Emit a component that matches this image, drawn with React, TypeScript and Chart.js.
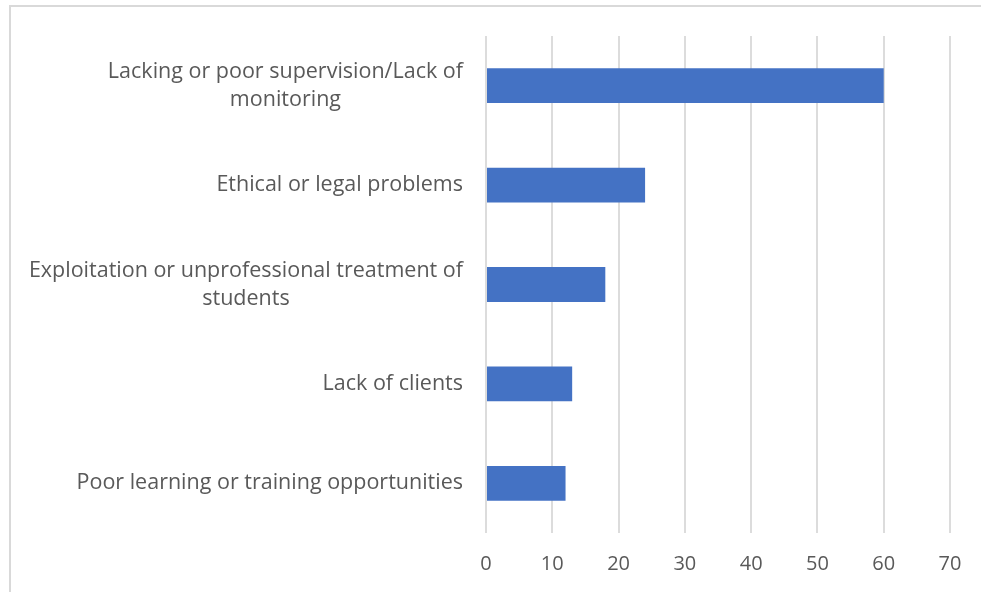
import React, { useEffect, useRef } from "react";
import { Chart, registerables } from "chart.js";

Chart.register(...registerables);

const categories: string[][] = [
  ["Lacking or poor supervision/Lack of", "monitoring"],
  ["Ethical or legal problems"],
  ["Exploitation or unprofessional treatment of", "students"],
  ["Lack of clients"],
  ["Poor learning or training opportunities"],
];
const values: number[] = [60, 24, 18, 13, 12];
const xTicks: number[] = [0, 10, 20, 30, 40, 50, 60, 70];

const FONT = "'Open Sans', sans-serif";
const TEXT = "#595959";

const labelPlugin = {
  id: "centeredLabels",
  afterDraw(chart: any) {
    const ctx = chart.ctx;
    const y = chart.scales.y;
    ctx.save();
    ctx.font = `21.5px ${FONT}`;
    ctx.fillStyle = TEXT;
    ctx.textAlign = "center";
    ctx.textBaseline = "middle";
    const right = chart.chartArea.left - 23;
    const lh = 28;
    categories.forEach((lines, i) => {
      const cy = y.getPixelForValue(i);
      const maxW = Math.max(...lines.map((l) => ctx.measureText(l).width));
      const cx = right - maxW / 2;
      const start = cy - ((lines.length - 1) * lh) / 2;
      lines.forEach((l, j) => ctx.fillText(l, cx, start + j * lh));
    });
    ctx.restore();
  },
};

export default function App() {
  const ref = useRef<HTMLCanvasElement | null>(null);
  useEffect(() => {
    document.body.style.margin = "0";
    const chart = new Chart(ref.current!, {
      type: "bar",
      data: {
        labels: categories.map((c) => c.join(" ")),
        datasets: [
          {
            data: values,
            backgroundColor: "#4472C4",
            borderWidth: 0,
            categoryPercentage: 1,
            barPercentage: 0.35,
          },
        ],
      },
      options: {
        indexAxis: "y",
        animation: false,
        responsive: false,
        layout: { padding: { left: 486, right: 32, top: 36, bottom: 0 } },
        plugins: { legend: { display: false }, tooltip: { enabled: false } },
        scales: {
          y: { display: false },
          x: {
            min: 0,
            max: 70,
            afterBuildTicks: (s: any) => {
              s.ticks = xTicks.map((v) => ({ value: v }));
            },
            afterFit: (s: any) => {
              s.height = 59;
            },
            border: { display: false },
            grid: { color: "#dcdcdc", lineWidth: 2, drawTicks: false },
            ticks: {
              padding: 19,
              color: TEXT,
              font: { family: FONT, size: 20 },
            },
          },
        },
      },
      plugins: [labelPlugin],
    });
    return () => chart.destroy();
  }, []);
  return (
    <div style={{ position: "relative", width: 982, height: 592, overflow: "hidden", background: "#fff" }}>
      <div
        style={{
          position: "absolute",
          left: 9,
          top: 5,
          width: 972,
          height: 700,
          borderTop: "2px solid #d9d9d9",
          borderLeft: "2px solid #d9d9d9",
          boxSizing: "border-box",
        }}
      />
      <canvas ref={ref} width={982} height={592} style={{ position: "absolute", left: 0, top: 0 }} />
    </div>
  );
}
